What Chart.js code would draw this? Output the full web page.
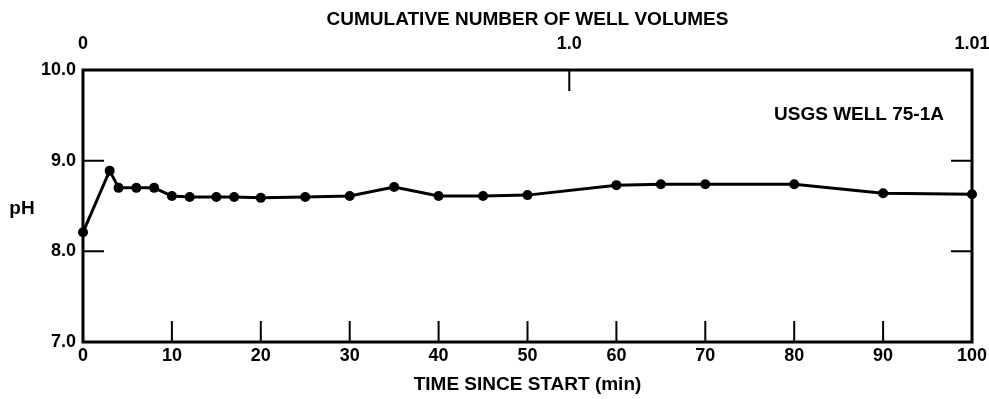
<!DOCTYPE html>
<html>
<head>
<meta charset="utf-8">
<script src="https://cdn.jsdelivr.net/npm/chart.js@4"></script>
<style>
  html, body { margin: 0; padding: 0; background: #fff; }
  #wrap { width: 989px; height: 399px; }
</style>
</head>
<body>
<div id="wrap"><canvas id="ph-chart"></canvas></div>
<script>
// time since start (min) and measured pH
const times = [0, 3, 4, 6, 8, 10, 12, 15, 17, 20, 25, 30, 35, 40, 45, 50, 60, 65, 70, 80, 90, 100];
const phValues = [8.21, 8.89, 8.70, 8.70, 8.70, 8.61, 8.60, 8.60, 8.60, 8.59, 8.60, 8.61, 8.71, 8.61, 8.61, 8.62, 8.73, 8.74, 8.74, 8.74, 8.64, 8.63];

// bottom axis
const timeTicks = [0, 10, 20, 30, 40, 50, 60, 70, 80, 90, 100];
// top axis: well volumes, placed at their time in minutes
const volumeTicks = [0, 54.7, 100];
const volumeLabels = ["0", "1.0", "1.01"];
// left axis
const phTicks = [7, 8, 9, 10];

const FAMILY = "'Liberation Sans', Arial, sans-serif";
const TICK_FONT = { family: FAMILY, size: 18, weight: "bold" };
const TITLE_FONT = { family: FAMILY, size: 19, weight: "bold" };

// frame, inward tick marks and the loose text
const framePlugin = {
  id: "frame",
  beforeDatasetsDraw(chart) {
    const { ctx, chartArea: a, scales } = chart;
    ctx.save();
    ctx.strokeStyle = "#000";
    ctx.lineWidth = 3;
    ctx.strokeRect(a.left, a.top, a.right - a.left, a.bottom - a.top);

    ctx.lineWidth = 2;
    ctx.beginPath();
    timeTicks.slice(1, -1).forEach((t) => {
      const x = scales.x.getPixelForValue(t);
      ctx.moveTo(x, a.bottom);
      ctx.lineTo(x, a.bottom - 21);
    });
    phTicks.slice(1, -1).forEach((v) => {
      const y = scales.y.getPixelForValue(v);
      ctx.moveTo(a.left, y);
      ctx.lineTo(a.left + 21, y);
      ctx.moveTo(a.right, y);
      ctx.lineTo(a.right - 21, y);
    });
    volumeTicks.slice(1, -1).forEach((t) => {
      const x = scales.x2.getPixelForValue(t);
      ctx.moveTo(x, a.top);
      ctx.lineTo(x, a.top + 21);
    });
    ctx.stroke();
    ctx.restore();
  },
  afterDraw(chart) {
    const { ctx, chartArea: a } = chart;
    ctx.save();
    ctx.fillStyle = "#000";
    ctx.font = "bold 19px " + FAMILY;
    ctx.textAlign = "center";
    ctx.textBaseline = "middle";
    ctx.fillText("pH", 22, (a.top + a.bottom) / 2 + 3);
    ctx.fillText("USGS WELL 75-1A", 859, 115);
    ctx.restore();
  },
};

// fixed side room so the plot spans 83..972
const fitX = (height) => (s) => {
  s.height = height;
  s.paddingLeft = 0;
  s.paddingRight = 17;
};

new Chart(document.getElementById("ph-chart"), {
  type: "line",
  data: {
    datasets: [
      {
        data: times.map((t, i) => ({ x: t, y: phValues[i] })),
        borderColor: "#000",
        backgroundColor: "#000",
        borderWidth: 3,
        pointRadius: 5,
        pointBorderWidth: 0,
        pointBackgroundColor: "#000",
        tension: 0,
        clip: false,
      },
    ],
  },
  options: {
    responsive: true,
    maintainAspectRatio: false,
    animation: false,
    layout: { padding: 0 },
    plugins: {
      legend: { display: false },
      tooltip: { enabled: false },
    },
    scales: {
      x: {
        type: "linear",
        position: "bottom",
        min: 0,
        max: 100,
        grid: { display: false, drawTicks: false },
        border: { display: false },
        afterBuildTicks: (s) => { s.ticks = timeTicks.map((v) => ({ value: v })); },
        afterFit: fitX(57),
        ticks: { color: "#000", font: TICK_FONT, padding: 3, maxRotation: 0 },
        title: {
          display: true,
          text: "TIME SINCE START (min)",
          color: "#000",
          font: TITLE_FONT,
          padding: { top: 0, bottom: 3 },
        },
      },
      x2: {
        type: "linear",
        position: "top",
        min: 0,
        max: 100,
        grid: { display: false, drawTicks: false },
        border: { display: false },
        afterBuildTicks: (s) => { s.ticks = volumeTicks.map((v) => ({ value: v })); },
        afterFit: fitX(70),
        ticks: {
          color: "#000",
          font: TICK_FONT,
          padding: 15,
          maxRotation: 0,
          callback: (v, i) => volumeLabels[i],
        },
        title: {
          display: true,
          text: "CUMULATIVE NUMBER OF WELL VOLUMES",
          color: "#000",
          font: TITLE_FONT,
          padding: { top: 8, bottom: 0 },
        },
      },
      y: {
        type: "linear",
        position: "left",
        min: 7,
        max: 10,
        grid: { display: false, drawTicks: false },
        border: { display: false },
        afterBuildTicks: (s) => { s.ticks = phTicks.map((v) => ({ value: v })); },
        afterFit: (s) => { s.width = 83; },
        ticks: {
          color: "#000",
          font: TICK_FONT,
          padding: 7,
          callback: (v) => v.toFixed(1),
        },
      },
    },
  },
  plugins: [framePlugin],
});
</script>
</body>
</html>
